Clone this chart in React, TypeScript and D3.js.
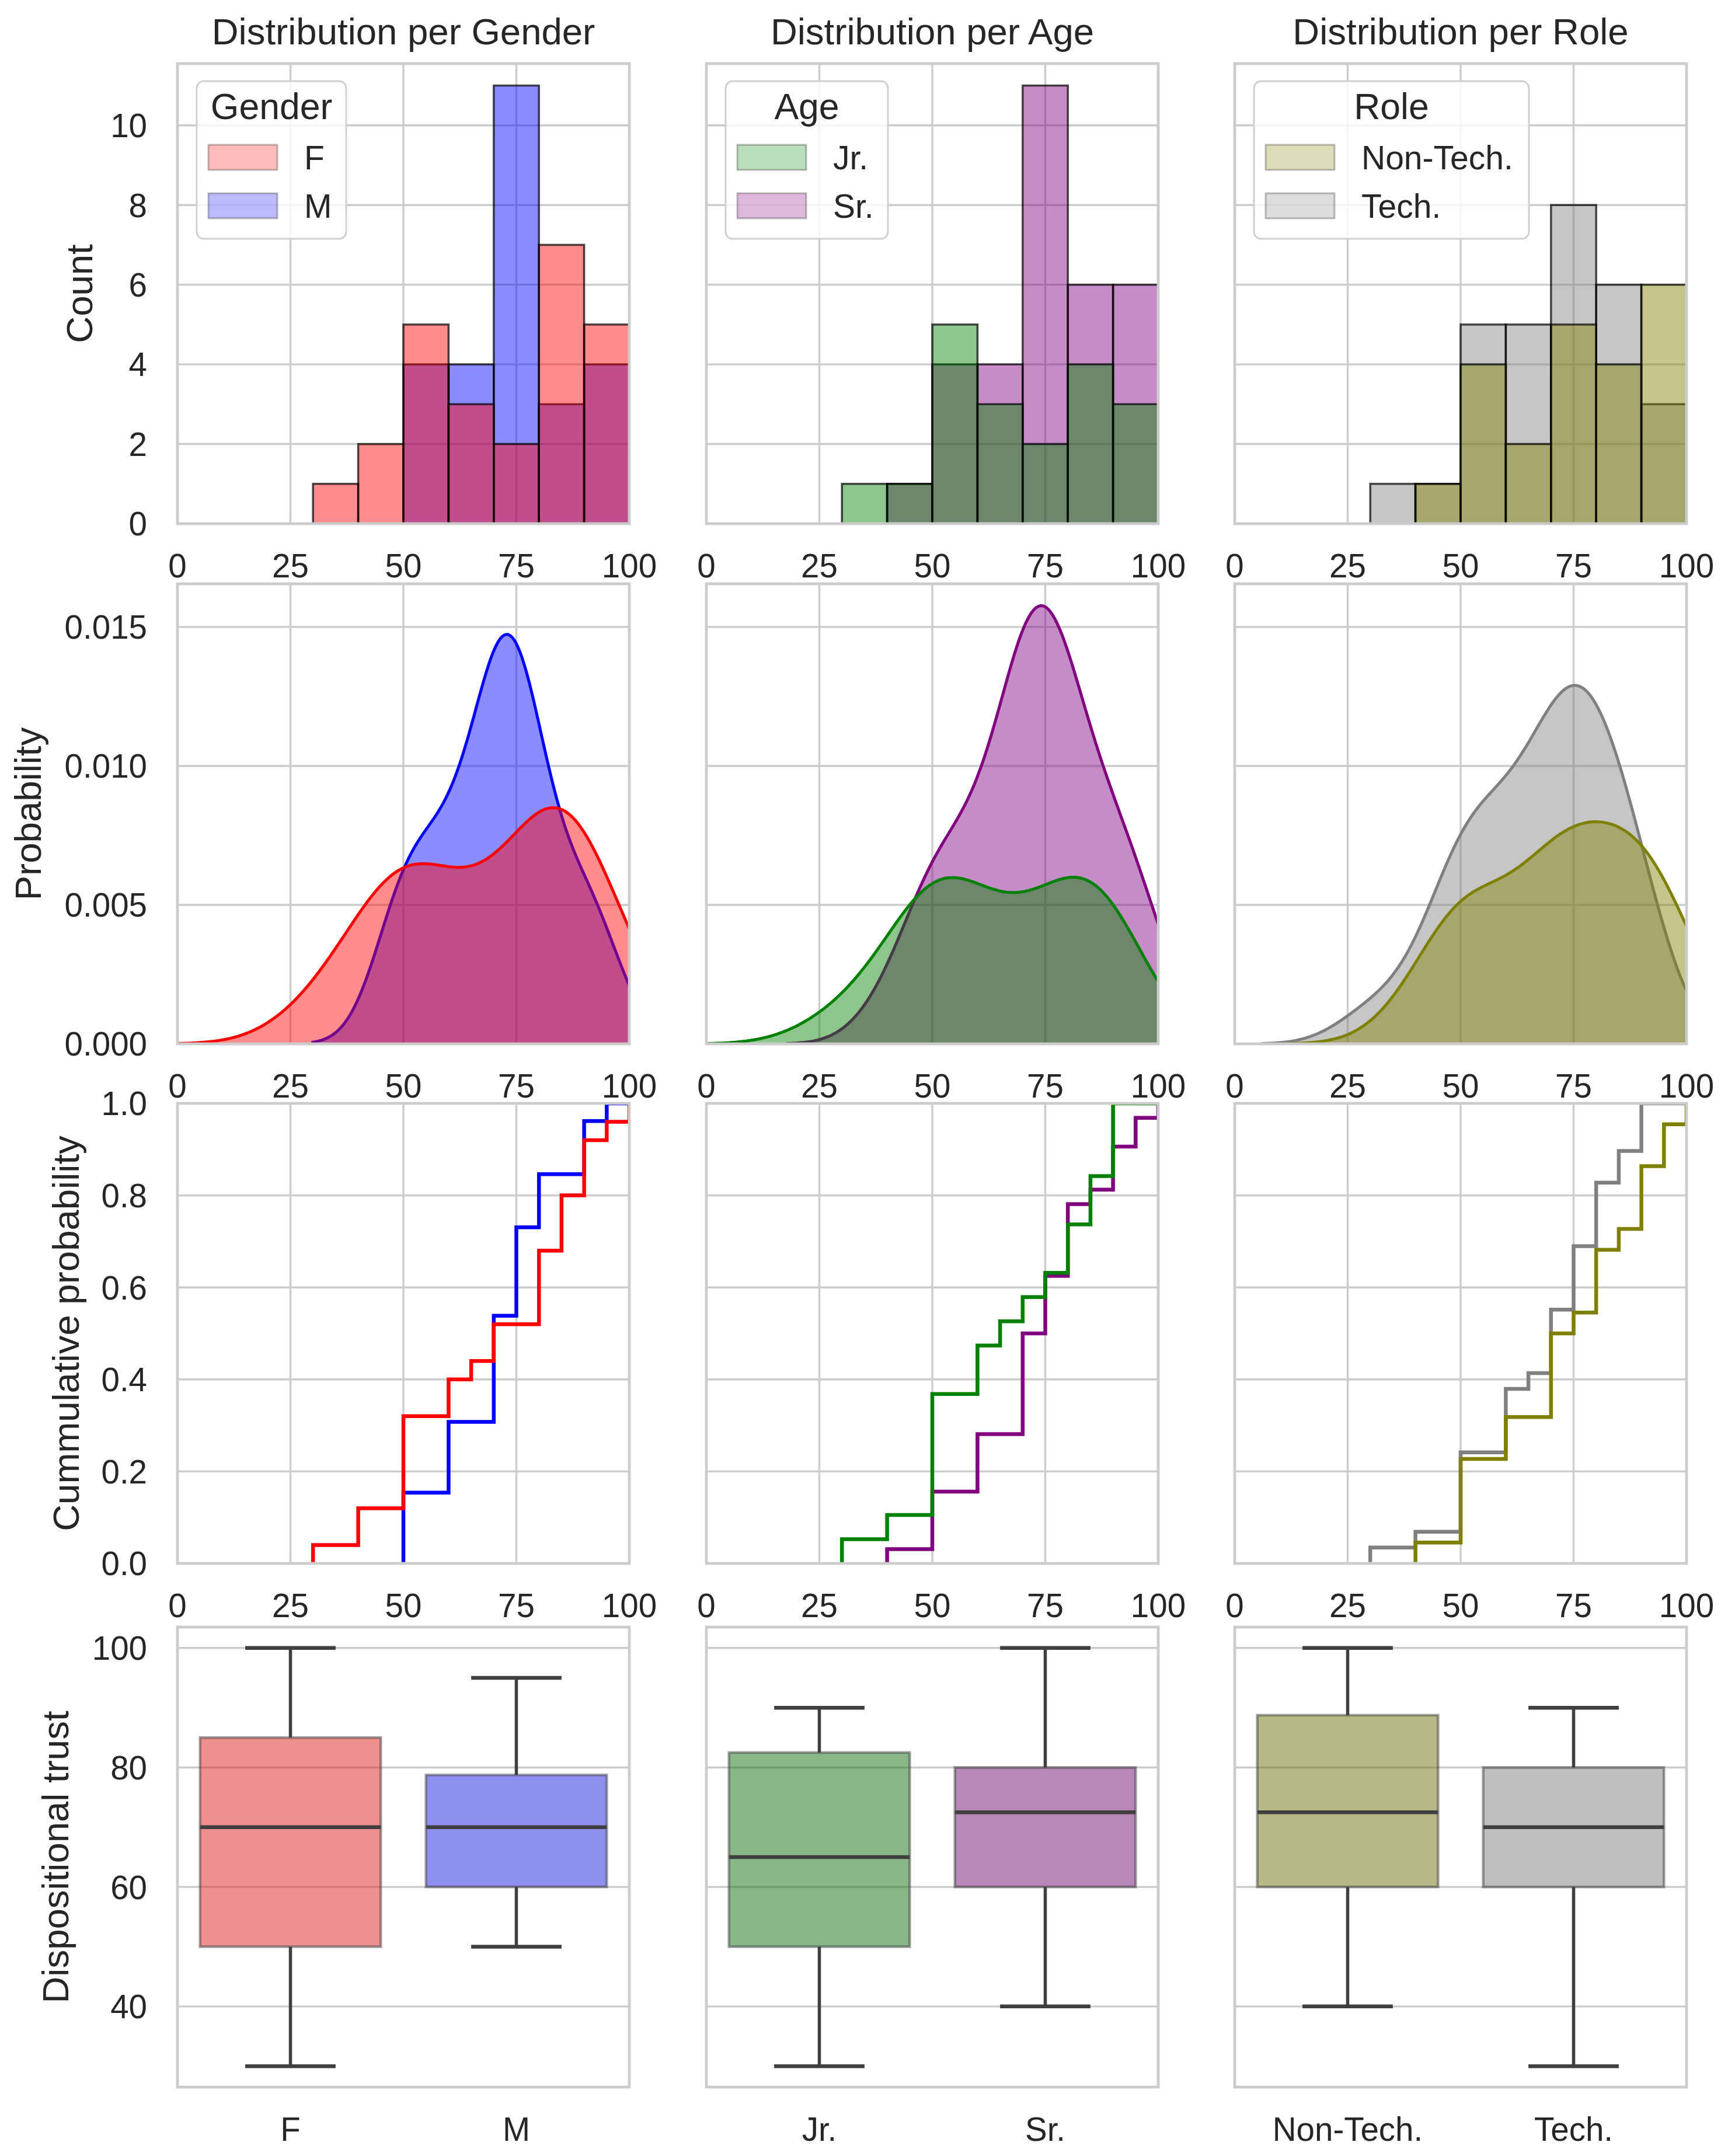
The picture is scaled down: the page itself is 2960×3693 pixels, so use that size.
import React from 'react';
import * as d3 from 'd3';

const femaleScores: [number, number][] = [[30, 1], [40, 2], [50, 5], [60, 2], [65, 1], [70, 2], [80, 4], [85, 3], [90, 3], [95, 1], [100, 1]];
const maleScores: [number, number][] = [[50, 4], [60, 4], [70, 6], [75, 5], [80, 3], [90, 3], [95, 1]];
const juniorScores: [number, number][] = [[30, 1], [40, 1], [50, 5], [60, 2], [65, 1], [70, 1], [75, 1], [80, 2], [85, 2], [90, 3]];
const seniorScores: [number, number][] = [[40, 1], [50, 4], [60, 4], [70, 7], [75, 4], [80, 5], [85, 1], [90, 3], [95, 2], [100, 1]];
const nonTechScores: [number, number][] = [[40, 1], [50, 4], [60, 2], [70, 4], [75, 1], [80, 3], [85, 1], [90, 3], [95, 2], [100, 1]];
const techScores: [number, number][] = [[30, 1], [40, 1], [50, 5], [60, 4], [65, 1], [70, 4], [75, 4], [80, 4], [85, 2], [90, 3]];

const genderLevels = ['F', 'M'];
const ageLevels = ['Jr.', 'Sr.'];
const roleLevels = ['Non-Tech.', 'Tech.'];
const genderColors = ['red', 'blue'];
const ageColors = ['green', 'purple'];
const roleColors = ['olive', 'gray'];

const columnTitles = ['Distribution per Gender', 'Distribution per Age', 'Distribution per Role'];
const legendTitles = ['Gender', 'Age', 'Role'];
const rowLabels = ['Count', 'Probability', 'Cummulative probability', 'Dispositional trust'];

const scoreTicks = [0, 25, 50, 75, 100];
const countTicks = [0, 2, 4, 6, 8, 10];
const densityTicks = [0, 0.005, 0.01, 0.015];
const cumulativeTicks = [0, 0.2, 0.4, 0.6, 0.8, 1.0];
const trustTicks = [40, 60, 80, 100];
const binEdges = [30, 40, 50, 60, 70, 80, 90, 100];

// layout (pixels)
const WIDTH = 2960;
const HEIGHT = 3693;
const COL_X = [304, 1210, 2115];
const ROW_Y = [109, 1000, 1890, 2787];
const PW = 774;
const PH = 788;
const LABEL_X = [158, 70, 135, 117];
const LEGEND_W = [256, 278, 471];

const FONT = '"Liberation Sans", Arial, Helvetica, sans-serif';
const TEXT = '#262626';
const GRID = '#cccccc';
const DARK = '#3f3f3f';
const TICK_SIZE = 56.5;
const LABEL_SIZE = 63.5;
const LEGEND_SIZE = 57;

const expand = (pairs: [number, number][]) => pairs.flatMap(([v, c]) => d3.range(c).map(() => v));

// gaussian kde, scott bandwidth, scaled by group share (common_norm)
function kde(values: number[], total: number): [number, number][] {
  const n = values.length;
  const bw = (d3.deviation(values) as number) * Math.pow(n, -0.2);
  const lo = (d3.min(values) as number) - 3 * bw;
  const hi = (d3.max(values) as number) + 3 * bw;
  const k = 1 / (Math.sqrt(2 * Math.PI) * bw * total);
  return d3.range(200).map(i => {
    const x = lo + ((hi - lo) * i) / 199;
    return [x, k * d3.sum(values, v => Math.exp(-0.5 * ((x - v) / bw) ** 2))];
  });
}

function ecdf(values: number[]): [number, number][] {
  const sorted = [...values].sort((a, b) => a - b);
  const n = sorted.length;
  const uniq = Array.from(new Set(sorted));
  return [
    [sorted[0], 0],
    ...uniq.map(v => [v, d3.bisectRight(sorted, v) / n] as [number, number]),
    [200, 1],
  ];
}

function desaturate(color: string) {
  const c = d3.hsl(color);
  c.s = (c.s || 0) * 0.75;
  return c.formatHex();
}

export default function App() {
  const groups = [
    { levels: genderLevels, colors: genderColors, scores: [femaleScores, maleScores] },
    { levels: ageLevels, colors: ageColors, scores: [juniorScores, seniorScores] },
    { levels: roleLevels, colors: roleColors, scores: [nonTechScores, techScores] },
  ].map(g => ({ ...g, values: g.scores.map(expand) }));

  const total = d3.sum(groups[0].values, v => v.length);
  const allValues = groups[0].values.flat();

  const binner = d3.bin().domain([binEdges[0], binEdges[binEdges.length - 1]]).thresholds(binEdges.slice(1, -1));
  const hists = groups.map(g => g.values.map(v => binner(v)));
  const countMax = 1.05 * (d3.max(hists.flat(2), b => b.length) as number);

  const kdes = groups.map(g => g.values.map(v => kde(v, total)));
  const densityMax = 1.05 * (d3.max(kdes.flat(2), p => p[1]) as number);

  const trustExt = d3.extent(allValues) as [number, number];
  const trustPad = (trustExt[1] - trustExt[0]) * 0.05;

  const rowY = (r: number, domain: [number, number]) =>
    d3.scaleLinear().domain(domain).range([ROW_Y[r] + PH, ROW_Y[r]]);
  const yScales = [
    rowY(0, [0, countMax]),
    rowY(1, [0, densityMax]),
    rowY(2, [0, 1]),
    rowY(3, [trustExt[0] - trustPad, trustExt[1] + trustPad]),
  ];
  const yTicks = [countTicks, densityTicks, cumulativeTicks, trustTicks];
  const yFormats = [d3.format('d'), d3.format('.3f'), d3.format('.1f'), d3.format('d')];

  const panels: React.ReactNode[] = [];

  groups.forEach((g, c) => {
    const x0 = COL_X[c];
    const x = d3.scaleLinear().domain([0, 100]).range([x0, x0 + PW]);
    const band = d3.scaleBand().domain(g.levels).range([x0, x0 + PW]);
    const order = [1, 0];

    for (let r = 0; r < 4; r++) {
      const y = yScales[r];
      const y0 = ROW_Y[r];
      const clipId = `clip-${r}-${c}`;
      const key = `${r}-${c}`;
      const marks: React.ReactNode[] = [];

      if (r === 0) {
        order.forEach(i => {
          hists[c][i].forEach((b, j) => {
            if (b.length === 0) return;
            marks.push(
              <rect key={`h${i}-${j}`} x={x(b.x0 as number)} y={y(b.length)}
                width={x(b.x1 as number) - x(b.x0 as number)} height={y(0) - y(b.length)}
                fill={g.colors[i]} fillOpacity={0.45} stroke="#000" strokeOpacity={0.7} strokeWidth={3.5} />
            );
          });
        });
      } else if (r === 1) {
        order.forEach(i => {
          const area = d3.area<[number, number]>().x(d => x(d[0])).y0(y(0)).y1(d => y(d[1]));
          const line = d3.line<[number, number]>().x(d => x(d[0])).y(d => y(d[1]));
          marks.push(<path key={`a${i}`} d={area(kdes[c][i]) as string} fill={g.colors[i]} fillOpacity={0.45} />);
          marks.push(<path key={`l${i}`} d={line(kdes[c][i]) as string} fill="none" stroke={g.colors[i]} strokeWidth={5} />);
        });
      } else if (r === 2) {
        order.forEach(i => {
          const line = d3.line<[number, number]>().x(d => x(d[0])).y(d => y(d[1])).curve(d3.curveStepAfter);
          marks.push(<path key={`e${i}`} d={line(ecdf(g.values[i])) as string} fill="none" stroke={g.colors[i]} strokeWidth={6.5} />);
        });
      } else {
        g.levels.forEach((lv, i) => {
          const v = [...g.values[i]].sort((a, b) => a - b);
          const q1 = d3.quantileSorted(v, 0.25) as number;
          const med = d3.quantileSorted(v, 0.5) as number;
          const q3 = d3.quantileSorted(v, 0.75) as number;
          const iqr = q3 - q1;
          const lo = d3.min(v.filter(d => d >= q1 - 1.5 * iqr)) as number;
          const hi = d3.max(v.filter(d => d <= q3 + 1.5 * iqr)) as number;
          const cx = (band(lv) as number) + band.bandwidth() / 2;
          const bw = band.bandwidth() * 0.8;
          const cap = bw / 4;
          marks.push(
            <g key={`b${i}`}>
              <line x1={cx} x2={cx} y1={y(q3)} y2={y(hi)} stroke={DARK} strokeWidth={5.5} />
              <line x1={cx} x2={cx} y1={y(q1)} y2={y(lo)} stroke={DARK} strokeWidth={5.5} />
              <line x1={cx - cap} x2={cx + cap} y1={y(hi)} y2={y(hi)} stroke={DARK} strokeWidth={6.5} />
              <line x1={cx - cap} x2={cx + cap} y1={y(lo)} y2={y(lo)} stroke={DARK} strokeWidth={6.5} />
              <rect x={cx - bw / 2} y={y(q3)} width={bw} height={y(q1) - y(q3)}
                fill={desaturate(g.colors[i])} fillOpacity={0.5} stroke={DARK} strokeOpacity={0.5} strokeWidth={4.5} />
              <line x1={cx - bw / 2} x2={cx + bw / 2} y1={y(med)} y2={y(med)} stroke={DARK} strokeWidth={6.5} />
            </g>
          );
        });
      }

      panels.push(
        <g key={key}>
          <clipPath id={clipId}>
            <rect x={x0} y={y0} width={PW} height={PH} />
          </clipPath>
          {r < 3 && scoreTicks.map(t => (
            <line key={`vx${t}`} x1={x(t)} x2={x(t)} y1={y0} y2={y0 + PH} stroke={GRID} strokeWidth={3.4} />
          ))}
          {yTicks[r].map(t => (
            <line key={`hy${t}`} x1={x0} x2={x0 + PW} y1={y(t)} y2={y(t)} stroke={GRID} strokeWidth={3.4} />
          ))}
          <g clipPath={`url(#${clipId})`}>{marks}</g>
          <rect x={x0} y={y0} width={PW} height={PH} fill="none" stroke={GRID} strokeWidth={4.8} />
          {r < 3
            ? scoreTicks.map(t => (
                <text key={`xt${t}`} x={x(t)} y={y0 + PH + 92} textAnchor="middle" fontSize={TICK_SIZE} fill={TEXT}>{t}</text>
              ))
            : g.levels.map(lv => (
                <text key={`xt${lv}`} x={(band(lv) as number) + band.bandwidth() / 2} y={y0 + PH + 92}
                  textAnchor="middle" fontSize={TICK_SIZE} fill={TEXT}>{lv}</text>
              ))}
          {c === 0 && yTicks[r].map(t => (
            <text key={`yt${t}`} x={x0 - 52} y={y(t) + TICK_SIZE * 0.36} textAnchor="end" fontSize={TICK_SIZE} fill={TEXT}>
              {yFormats[r](t)}
            </text>
          ))}
          {r === 0 && (
            <g>
              <rect x={x0 + 33} y={y0 + 30} width={LEGEND_W[c]} height={270} rx={12}
                fill="#fff" fillOpacity={0.8} stroke="#d0d0d0" strokeWidth={3} />
              <text x={x0 + 33 + LEGEND_W[c] / 2} y={y0 + 30 + 65} textAnchor="middle" fontSize={62.5} fill={TEXT}>
                {legendTitles[c]}
              </text>
              {g.levels.map((lv, i) => (
                <g key={`lg${lv}`}>
                  <rect x={x0 + 53} y={y0 + 139 + 83 * i} width={118} height={43}
                    fill={g.colors[i]} fillOpacity={0.27} stroke="#000" strokeOpacity={0.25} strokeWidth={3} />
                  <text x={x0 + 33 + 184} y={y0 + 160.5 + 83 * i + LEGEND_SIZE * 0.36} fontSize={LEGEND_SIZE} fill={TEXT}>{lv}</text>
                </g>
              ))}
            </g>
          )}
        </g>
      );
    }

    panels.push(
      <text key={`title${c}`} x={x0 + PW / 2} y={76} textAnchor="middle" fontSize={LABEL_SIZE} fill={TEXT}>
        {columnTitles[c]}
      </text>
    );
  });

  return (
    <div>
      <style>{'body{margin:0}'}</style>
      <svg width={WIDTH} height={HEIGHT} fontFamily={FONT} style={{ display: 'block', background: '#fff' }}>
        <rect width={WIDTH} height={HEIGHT} fill="#fff" />
        {panels}
        {rowLabels.map((lab, r) => (
          <text key={lab} transform={`translate(${LABEL_X[r]},${ROW_Y[r] + PH / 2}) rotate(-90)`}
            textAnchor="middle" fontSize={LABEL_SIZE} fill={TEXT}>
            {lab}
          </text>
        ))}
      </svg>
    </div>
  );
}
